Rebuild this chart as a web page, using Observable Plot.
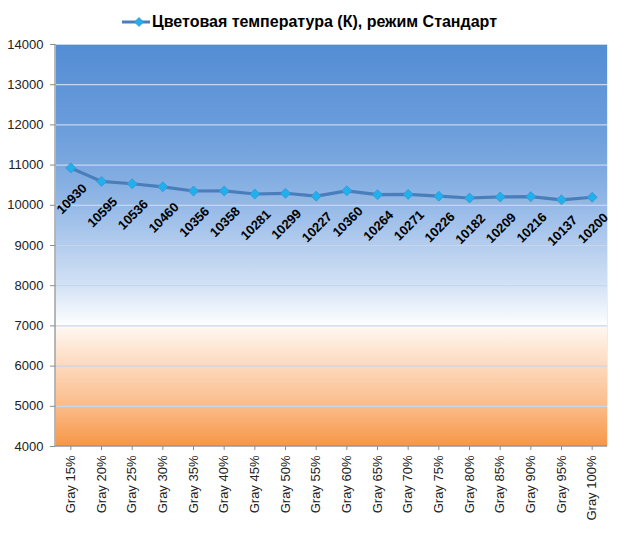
<!DOCTYPE html>
<html>
<head>
<meta charset="utf-8">
<script src="https://cdn.jsdelivr.net/npm/d3@7"></script>
<script src="https://cdn.jsdelivr.net/npm/@observablehq/plot@0.6"></script>
<style>
  html, body { margin: 0; padding: 0; background: #fff; }
  body { width: 626px; height: 542px; overflow: hidden; font-family: "Liberation Sans", Arial, sans-serif; }
  #legend { position: relative; height: 36px; }
  #legend svg { position: absolute; left: 121px; top: 15px; }
  #legend span { position: absolute; left: 152px; top: 13px; font-weight: bold; font-size: 16px; color: #000; white-space: nowrap; }
</style>
</head>
<body>
<div id="legend">
  <svg width="32" height="14"><line x1="1" y1="7" x2="29" y2="7" stroke="#4a7ebb" stroke-width="3"/><path d="M18,2.5L22.5,7L18,11.5L13.5,7Z" fill="#1fb1ee" stroke="#3b8fd0" stroke-width="0.75"/></svg>
  <span>Цветовая температура (К), режим Стандарт</span>
</div>
<div id="chart"></div>
<script>
const categories = ["Gray 15%","Gray 20%","Gray 25%","Gray 30%","Gray 35%","Gray 40%","Gray 45%","Gray 50%","Gray 55%","Gray 60%","Gray 65%","Gray 70%","Gray 75%","Gray 80%","Gray 85%","Gray 90%","Gray 95%","Gray 100%"];
const values = [10930,10595,10536,10460,10356,10358,10281,10299,10227,10360,10264,10271,10226,10182,10209,10216,10137,10200];
const yTicks = [4000,5000,6000,7000,8000,9000,10000,11000,12000,13000,14000];

const data = categories.map((c, i) => ({cat: c, value: values[i]}));

const defsMark = () => {
  const g = d3.create("svg:g");
  g.html(`<defs><linearGradient id="bg" x1="0" y1="0" x2="0" y2="1">
    <stop offset="0" stop-color="#548dd4"/>
    <stop offset="0.2" stop-color="#6a9cdb"/>
    <stop offset="0.3" stop-color="#7ba8df"/>
    <stop offset="0.4" stop-color="#94b9e7"/>
    <stop offset="0.5" stop-color="#b4cdee"/>
    <stop offset="0.6" stop-color="#d3e2f5"/>
    <stop offset="0.69" stop-color="#fafcfe"/>
    <stop offset="0.7" stop-color="#ffffff"/>
    <stop offset="0.705" stop-color="#fff6ef"/>
    <stop offset="0.8" stop-color="#fdd9bd"/>
    <stop offset="0.9" stop-color="#fbbb88"/>
    <stop offset="1" stop-color="#f79646"/>
  </linearGradient></defs>`);
  return g.node();
};

const axisLines = (index, scales, values, dims) => {
  const g = d3.create("svg:g").attr("stroke", "#8c8c8c").attr("stroke-width", 1.2);
  const l = dims.marginLeft, b = dims.height - dims.marginBottom, r = dims.width - dims.marginRight, t = dims.marginTop;
  g.append("line").attr("x1", l).attr("x2", l).attr("y1", t).attr("y2", b);
  g.append("line").attr("x1", l).attr("x2", r).attr("y1", b).attr("y2", b);
  return g.node();
};

const chart = Plot.plot({
  width: 626,
  height: 506,
  marginTop: 8,
  marginBottom: 96,
  marginLeft: 55,
  marginRight: 19,
  style: {fontFamily: "Liberation Sans, Arial, sans-serif", background: "transparent", overflow: "visible"},
  x: {type: "band", domain: categories, padding: 0, round: false},
  y: {domain: [4000, 14000]},
  marks: [
    defsMark,
    Plot.frame({fill: "url(#bg)", stroke: "#e8eef7", strokeWidth: 1}),
    Plot.gridY(yTicks, {stroke: "#c6d6ec", strokeOpacity: 1, strokeWidth: 1.2}),
    axisLines,
    Plot.axisY({ticks: yTicks, tickSize: 5, tickPadding: 7, fontSize: 13, label: null, tickFormat: d => String(d), stroke: "#8c8c8c", fill: "#222"}),
    Plot.axisX({tickRotate: -90, tickSize: 4, tickPadding: 5, fontSize: 13, label: null, stroke: "#8c8c8c", fill: "#222"}),
    Plot.line(data, {x: "cat", y: "value", stroke: "#4a7ebb", strokeWidth: 3.2}),
    Plot.dot(data, {x: "cat", y: "value", symbol: "diamond2", r: 4.5, fill: "#1fb1ee", stroke: "#3b8fd0", strokeWidth: 0.75}),
    Plot.text(data, {x: "cat", y: "value", text: d => String(d.value), rotate: -45, dy: 31, dx: 1, fontSize: 13, fontWeight: "bold", fill: "#000", textAnchor: "middle", lineAnchor: "middle"})
  ]
});
document.getElementById("chart").appendChild(chart);
</script>
</body>
</html>
